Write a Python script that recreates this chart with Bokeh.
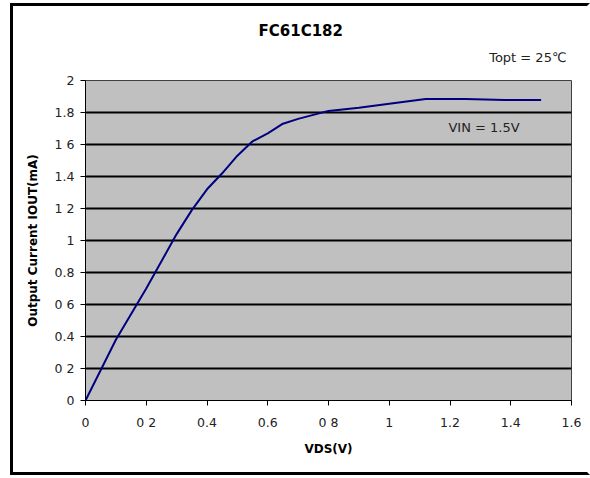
from bokeh.plotting import figure
from bokeh.models import Label, FixedTicker, Range1d, Title
from bokeh.embed import file_html
from bokeh.resources import INLINE

# Data
vds = [0, 0.1, 0.2, 0.3, 0.35, 0.4, 0.45, 0.5, 0.55, 0.6, 0.65, 0.7, 0.75, 0.8, 0.9, 1.0, 1.12, 1.25, 1.38, 1.5]
iout = [0, 0.38, 0.70, 1.04, 1.19, 1.32, 1.42, 1.53, 1.62, 1.67, 1.73, 1.76, 1.785, 1.81, 1.83, 1.855, 1.885, 1.885, 1.878, 1.878]

x_ticks = [0, 0.2, 0.4, 0.6, 0.8, 1.0, 1.2, 1.4, 1.6]
x_tick_labels = ["0", "0 2", "0.4", "0.6", "0 8", "1", "1.2", "1.4", "1.6"]
y_ticks = [0, 0.2, 0.4, 0.6, 0.8, 1.0, 1.2, 1.4, 1.6, 1.8, 2.0]
y_tick_labels = ["0", "0 2", "0.4", "0 6", "0.8", "1", "1 2", "1.4", "1 6", "1.8", "2"]

title_text = "FC61C182"
x_title = "VDS(V)"
y_title = "Output Current IOUT(mA)"
note_topt = "Topt = 25\u2103"
note_vin = "VIN = 1.5V"

FONT = "DejaVu Sans"

# figure element spans page x 10..590, y 3..475 (border-box); canvas starts at (13, 6)
p = figure(width=580, height=472, x_range=Range1d(0, 1.6), y_range=Range1d(0, 2),
           output_backend="svg", toolbar_location=None,
           min_border_left=72, min_border_right=22, min_border_top=74, min_border_bottom=78)
p.margin = (3, 0, 0, 10)
p.styles = {"border-left": "3px solid black", "border-top": "3px solid black",
            "border-bottom": "3px solid black", "border-right": "3px solid white",
            "overflow": "hidden"}

p.background_fill_color = "#C0C0C0"
p.border_fill_color = "white"
p.outline_line_color = "#404040"
p.outline_line_width = 1

p.xgrid.visible = False
p.ygrid.grid_line_color = "black"
p.ygrid.grid_line_width = 2

p.xaxis.ticker = FixedTicker(ticks=x_ticks)
p.yaxis.ticker = FixedTicker(ticks=y_ticks)
p.xaxis.major_label_overrides = {t: l for t, l in zip(x_ticks, x_tick_labels)}
p.yaxis.major_label_overrides = {t: l for t, l in zip(y_ticks, y_tick_labels)}

for ax in (p.xaxis, p.yaxis):
    ax.axis_line_color = "black"
    ax.axis_line_width = 1
    ax.major_tick_line_color = "black"
    ax.major_tick_out = 5
    ax.major_tick_in = 0
    ax.minor_tick_line_color = None
    ax.major_label_text_font = FONT
    ax.major_label_text_font_size = "12.5px"
    ax.major_label_text_color = "#222222"
    ax.axis_label_text_font = FONT
    ax.axis_label_text_font_size = "12px"
    ax.axis_label_text_font_style = "bold"
    ax.axis_label_text_color = "black"

p.xaxis.axis_label = x_title
p.yaxis.axis_label = y_title
p.xaxis.major_label_standoff = 9
p.yaxis.major_label_standoff = 6
p.xaxis.axis_label_standoff = 9
p.yaxis.axis_label_standoff = 12

p.line(vds, iout, line_color="#000080", line_width=2)

p.add_layout(Label(x=1.195, y=1.706, text=note_vin, text_font=FONT, text_font_size="13px",
                   text_color="#222222", text_baseline="middle", text_align="left"))

# titles above the frame: first added sits next to the frame
p.add_layout(Title(text=note_topt, align="right", offset=5, standoff=32,
                   text_font=FONT, text_font_size="13px", text_font_style="normal",
                   text_color="#222222"), "above")
p.add_layout(Title(text=title_text, align="left", offset=173, standoff=-16,
                   text_font=FONT, text_font_size="15px", text_font_style="bold",
                   text_color="black"), "above")

open("out.html", "w").write(file_html(p, INLINE))
